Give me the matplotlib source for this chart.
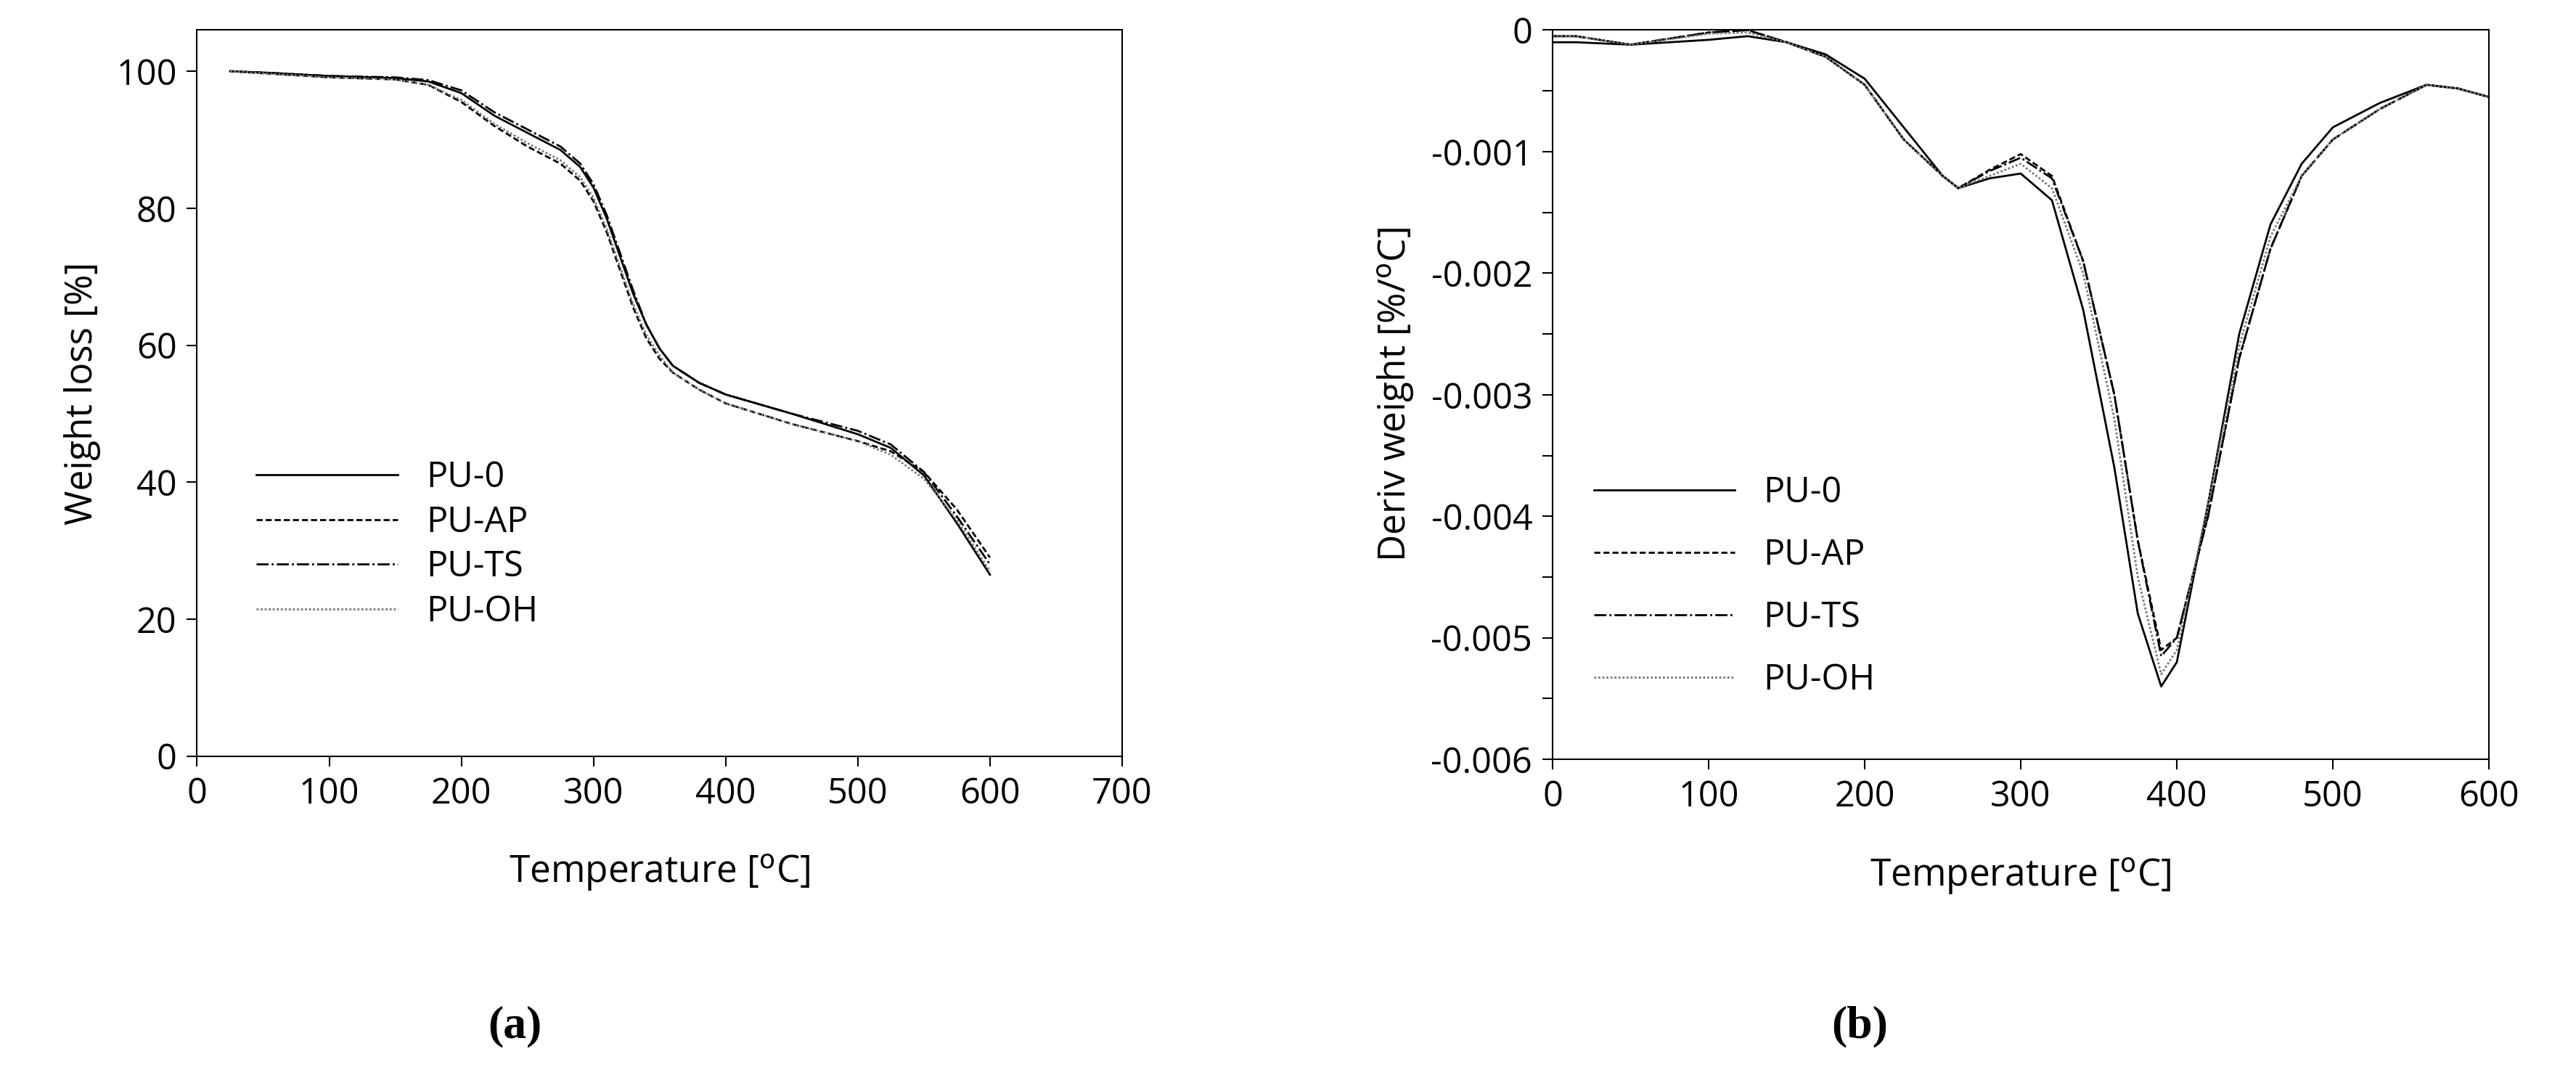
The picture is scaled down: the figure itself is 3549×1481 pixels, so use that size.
import numpy as np
import matplotlib.pyplot as plt
from matplotlib.ticker import MultipleLocator

plt.rcParams["font.family"] = "Open Sans"

# (a) weight loss
temp_a = [25, 50, 100, 150, 175, 200, 225, 250, 275, 290, 300, 310, 320, 330, 340, 350, 360, 380, 400, 450, 500, 525, 550, 575, 600]
pu0_a = [100, 99.8, 99.3, 99, 98.5, 96.8, 93.5, 91, 88.5, 86, 83, 78.5, 73, 67.5, 63, 59.5, 57, 54.5, 52.8, 50, 47, 45, 41, 34, 26.5]
puap_a = [100, 99.7, 99.1, 98.8, 98, 95.5, 92, 89, 86.5, 84, 81, 76.5, 71, 65.5, 61, 58, 56, 53.5, 51.5, 48.5, 46, 44.5, 41.5, 36, 29]
purs_a = [100, 99.8, 99.3, 99.1, 98.7, 97.2, 94, 91.5, 89, 86.5, 83.5, 79, 73.5, 68, 63, 59.5, 57, 54.5, 52.8, 50, 47.5, 45.5, 41.5, 35, 28]
puoh_a = [100, 99.7, 99.1, 98.8, 98, 95.8, 92.3, 89.5, 87, 84.5, 81.5, 77, 71.5, 66, 61.5, 58.5, 56, 53.5, 51.5, 48.5, 46, 44, 40.5, 34.5, 27]

# (b) derivative weight
temp_b = [0, 15, 50, 100, 125, 150, 175, 200, 225, 250, 260, 280, 300, 320, 340, 360, 375, 390, 400, 420, 440, 460, 480, 500, 530, 560, 580, 600]
pu0_b = [-0.0001, -0.0001, -0.00012, -0.00008, -0.00005, -0.0001, -0.0002, -0.0004, -0.0008, -0.0012, -0.0013, -0.00122, -0.00118, -0.0014, -0.0023, -0.0036, -0.0048, -0.0054, -0.0052, -0.0039, -0.0025, -0.0016, -0.0011, -0.0008, -0.0006, -0.00045, -0.00048, -0.00055]
puap_b = [-0.00005, -0.00005, -0.00012, -0.00002, 0.0, -0.0001, -0.00022, -0.00045, -0.0009, -0.0012, -0.0013, -0.00115, -0.00102, -0.0012, -0.0019, -0.003, -0.0042, -0.0051, -0.0050, -0.0040, -0.0027, -0.0018, -0.0012, -0.0009, -0.00065, -0.00045, -0.00048, -0.00055]
purs_b = [-0.00005, -0.00005, -0.00012, -0.00002, 0.0, -0.0001, -0.00022, -0.00045, -0.0009, -0.0012, -0.0013, -0.00116, -0.00105, -0.00122, -0.0019, -0.003, -0.0042, -0.00515, -0.0050, -0.0040, -0.0027, -0.0018, -0.0012, -0.0009, -0.00065, -0.00045, -0.00048, -0.00055]
puoh_b = [-0.00005, -0.00005, -0.00012, -0.00003, -0.00002, -0.0001, -0.00022, -0.00045, -0.0009, -0.0012, -0.0013, -0.0012, -0.0011, -0.0013, -0.002, -0.0032, -0.0045, -0.0053, -0.0051, -0.0039, -0.0026, -0.0017, -0.0012, -0.0009, -0.00065, -0.00045, -0.00048, -0.00055]

labels = ["PU-0", "PU-AP", "PU-TS", "PU-OH"]
styles = [dict(color="black", ls="-", lw=2),
          dict(color="black", ls=(0, (3, 1.5)), lw=2),
          dict(color="black", ls=(0, (6, 1.5, 1, 1.5)), lw=2),
          dict(color="#777777", ls=(0, (1, 1)), lw=2)]

fig = plt.figure(figsize=(35.49, 14.81), dpi=100)
ax1 = fig.add_axes([0.0765, 0.2966, 0.3591, 0.6754])
ax2 = fig.add_axes([0.6027, 0.2936, 0.3635, 0.6784])

for y, lab, st in zip([pu0_a, puap_a, purs_a, puoh_a], labels, styles):
    ax1.plot(temp_a, y, label=lab, **st)
ax1.set_xlim(0, 700)
ax1.set_ylim(0, 106)
ax1.set_yticks(range(0, 101, 20))
ax1.set_xlabel("Temperature [$^{\\rm o}$C]", fontsize=37, labelpad=40)
ax1.set_ylabel("Weight loss [%]", fontsize=37, labelpad=15)
ax1.legend(loc="lower left", bbox_to_anchor=(0.03, 0.13), frameon=False, fontsize=35,
           handlelength=4, labelspacing=0.25)

for y, lab, st in zip([pu0_b, puap_b, purs_b, puoh_b], labels, styles):
    ax2.plot(temp_b, y, label=lab, **st)
ax2.set_xlim(0, 600)
ax2.set_ylim(-0.006, 0)
yt = [0, -0.001, -0.002, -0.003, -0.004, -0.005, -0.006]
ax2.set_yticks(yt)
ax2.set_yticklabels(["0", "-0.001", "-0.002", "-0.003", "-0.004", "-0.005", "-0.006"])
ax2.yaxis.set_minor_locator(MultipleLocator(0.0005))
ax2.set_xlabel("Temperature [$^{\\rm o}$C]", fontsize=37, labelpad=40)
ax2.set_ylabel("Deriv weight [%/$^{\\rm o}$C]", fontsize=37, labelpad=15)
ax2.legend(loc="lower left", bbox_to_anchor=(0.01, 0.04), frameon=False, fontsize=35,
           handlelength=4, labelspacing=0.75)

for ax in (ax1, ax2):
    ax.tick_params(labelsize=35, direction="out", length=10, width=1.5, pad=10)
    ax.tick_params(which="minor", direction="out", length=10, width=1.5)
    for s in ax.spines.values():
        s.set_linewidth(1.5)

fig.text(0.200, 0.035, "(a)", fontsize=46, fontweight="bold", family="Liberation Serif", ha="center")
fig.text(0.722, 0.035, "(b)", fontsize=46, fontweight="bold", family="Liberation Serif", ha="center")

fig.savefig("out.png", dpi=100)
